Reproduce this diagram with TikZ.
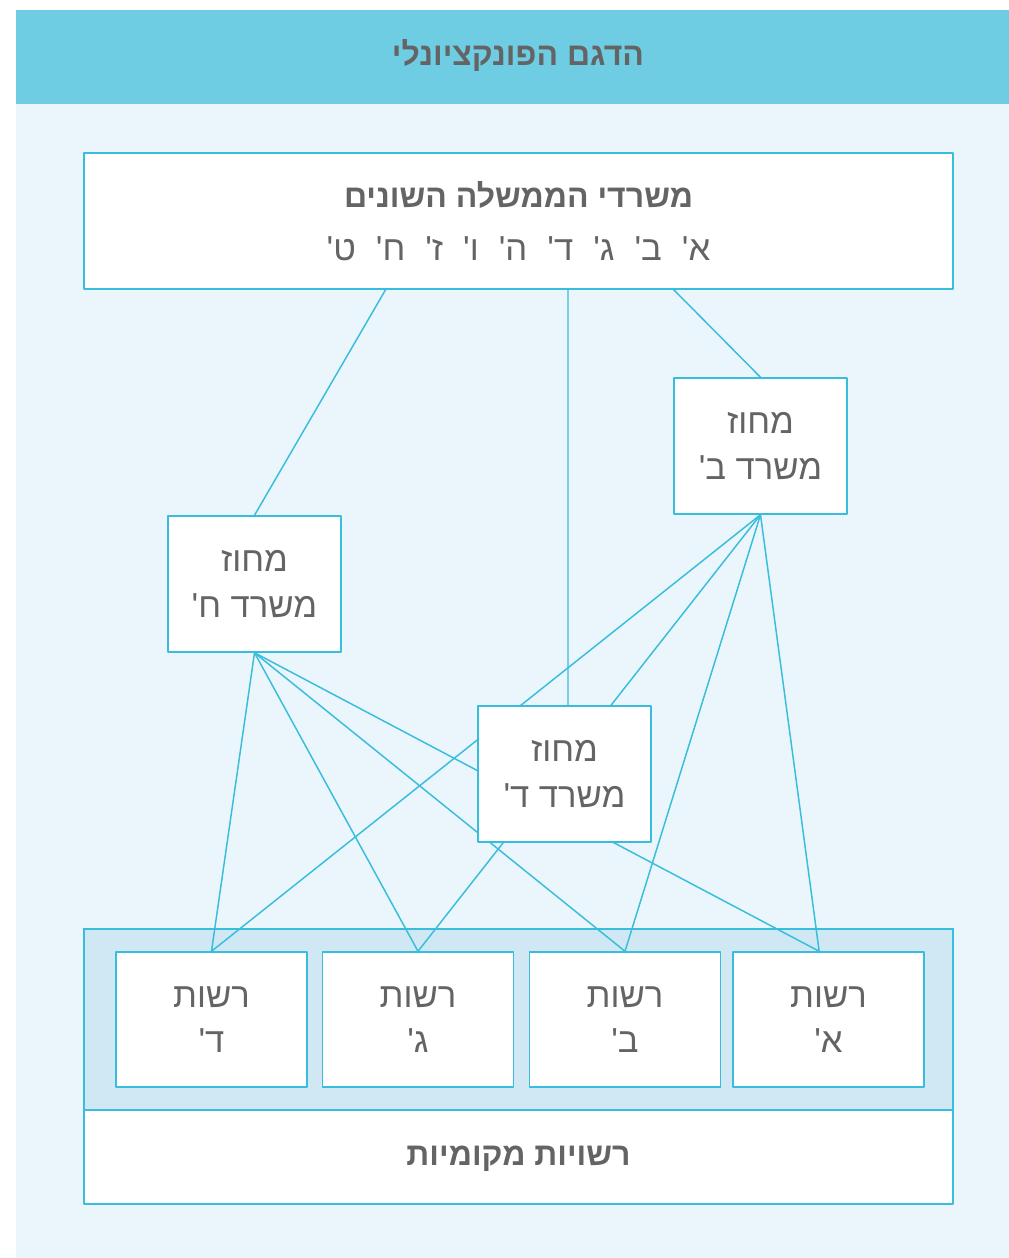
\documentclass[tikz,border=0pt]{standalone}
\usepackage{fontspec}
\newfontfamily\hebfont[Script=Hebrew]{Liberation Sans}
\TeXXeTstate=1
\definecolor{headblue}{RGB}{111,205,227}
\definecolor{paleblue}{RGB}{234,246,251}
\definecolor{groupblue}{RGB}{207,232,243}
\definecolor{wireblue}{RGB}{56,189,221}
\definecolor{textgray}{RGB}{100,100,100}
\pgfdeclarelayer{back}
\pgfdeclarelayer{wires}
\pgfsetlayers{back,wires,main}
\newcommand{\rtltext}[1]{\beginR #1\endR}
\newcommand{\gsh}{\symbol{"27}}
\newcommand{\gap}{\hspace{15pt}}
\tikzset{
  box/.style={draw=wireblue,fill=white,line width=1.1pt,align=center,text=textgray,
    font=\hebfont\fontsize{26}{34}\selectfont,inner sep=0pt},
  mbox/.style={box,minimum width=129.75pt,minimum height=102pt},
  rbox/.style={box,minimum width=143.25pt,minimum height=101.25pt},
  wide/.style={box,minimum width=651.75pt},
  boldtext/.style={font=\hebfont\bfseries\fontsize{24}{30}\selectfont},
  wire/.style={draw=wireblue,line width=1.1pt}
}
\begin{document}
\begin{tikzpicture}[x=0.75pt,y=-0.75pt,line join=round]
\useasboundingbox (0,0) rectangle (1009,1258);
\begin{pgfonlayer}{back}
  \fill[headblue] (16,10) rectangle (1009,104);
  \fill[paleblue] (16,104) rectangle (1009,1258);
  \filldraw[fill=groupblue,draw=wireblue,line width=1.1pt] (84,929) rectangle (953,1110);
\end{pgfonlayer}
% title and ministries
\node[text=textgray,boldtext] (title) at (518,55) {\rtltext{הדגם הפונקציונלי}};
\node[wide,minimum height=102pt] (top) at (518.5,221)
  {{\bfseries\fontsize{24}{30}\selectfont\rtltext{משרדי הממשלה השונים}}\\[6pt]
   \rtltext{א\gsh\gap ב\gsh\gap ג\gsh\gap ד\gsh\gap ה\gsh\gap ו\gsh\gap ז\gsh\gap ח\gsh\gap ט\gsh}};
% districts
\node[mbox] (mb) at (760.5,446) {\rtltext{מחוז}\\\rtltext{משרד ב\gsh}};
\node[mbox] (mh) at (254.5,584) {\rtltext{מחוז}\\\rtltext{משרד ח\gsh}};
\node[mbox] (md) at (564.5,774) {\rtltext{מחוז}\\\rtltext{משרד ד\gsh}};
% local authorities
\foreach \r/\x/\t in {rd/211.5/ד,rg/418/ג,rb/625/ב,ra/828.5/א}
  \node[rbox] (\r) at (\x,1019.5) {\rtltext{רשות}\\\rtltext{\t\gsh}};
\node[wide,minimum height=70.5pt,boldtext,text depth=2pt] (local) at (518.5,1157) {\rtltext{רשויות מקומיות}};
\path (386,289) coordinate (t1)
      (568,289) coordinate (t2)
      (673,289) coordinate (t3);
\begin{pgfonlayer}{wires}
  \draw[wire] (t1)--(mh.north) (t2)--(t2 |- md.north) (t3)--(mb.north);
  \foreach \r/\s in {rd/0,rg/0,rb/0,ra/-7}
    \draw[wire] (mh.south)--([xshift=\s pt]\r.north) (mb.south)--([xshift=\s pt]\r.north);
\end{pgfonlayer}
\end{tikzpicture}
\end{document}
